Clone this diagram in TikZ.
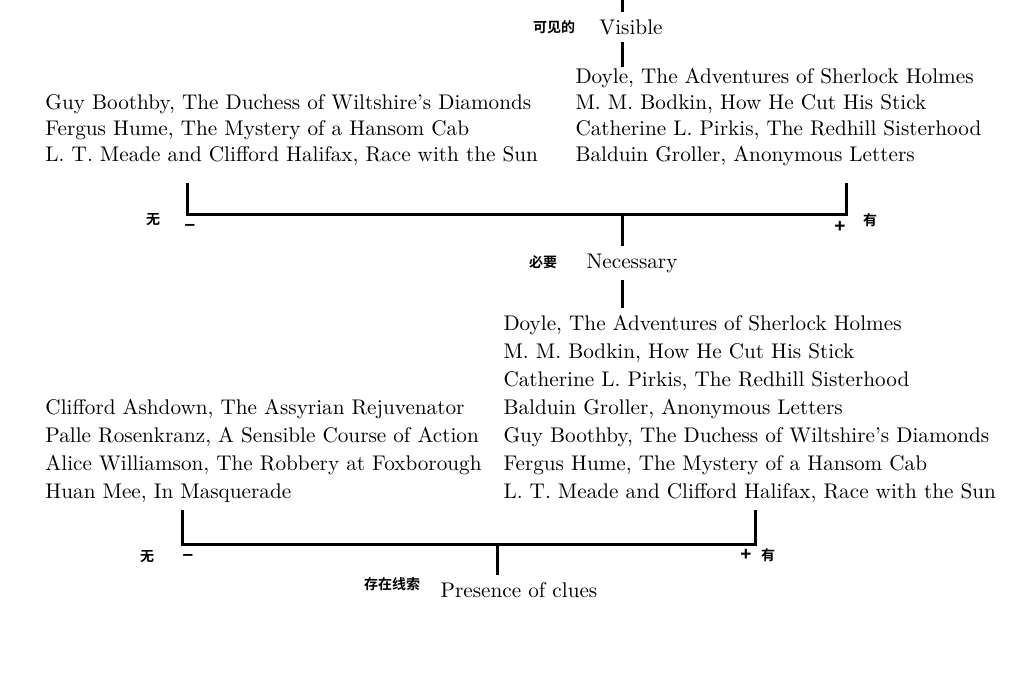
\documentclass[tikz,border=0pt]{standalone}
\usepackage{fontspec}
\usepackage{tikz}
\newfontfamily\cjk{Noto Sans CJK SC}[BoldFont={Noto Sans CJK SC Bold}]
\newfontfamily\signfont{Liberation Sans}
\newcommand\titlefont{\fontsize{10.6}{12}\selectfont}
\newcommand\axisfont{\fontsize{10.6}{12}\selectfont}
\newcommand\zhfont{\cjk\bfseries\fontsize{7}{8}\selectfont}

\tikzset{
	title/.style={anchor=west, inner sep=0pt, font=\titlefont},
	axis/.style={inner sep=3pt, font=\axisfont},
	zh/.style={inner sep=0pt, font=\zhfont},
	sign/.style={inner sep=0pt, font=\signfont\bfseries\fontsize{9.5}{9.5}\selectfont},
}

\begin{document}
\begin{tikzpicture}[x=0.5pt, y=-0.5pt, line width=1.5pt]
		\useasboundingbox (0,0) rectangle (1024,696);

		% Visible
		\coordinate (top) at (622,0);
		\node at (631, 27) [axis] (visible) {Visible};
		\node at (554, 27) [zh] (visiblezh) {可见的};
		\foreach \t [count=\i] in {{Doyle, The Adventures of Sherlock Holmes},
				{M. M. Bodkin, How He Cut His Stick},
				{Catherine L. Pirkis, The Redhill Sisterhood},
				{Balduin Groller, Anonymous Letters}}
			\node at (574, 52+26*\i) [title] (vis\i) {\t};
		\foreach \t [count=\i] in {{Guy Boothby, The Duchess of Wiltshire’s Diamonds},
				{Fergus Hume, The Mystery of a Hansom Cab},
				{L. T. Meade and Clifford Halifax, Race with the Sun}}
			\node at (44, 78+26*\i) [title] (invis\i) {\t};
		\draw (top) -- (top |- visible.north);
		\draw (top |- visible.south) -- (top |- vis1.north);

		% First axis
		\coordinate (ax1l) at (187,183);
		\coordinate (ax1r) at (846,183);
		\coordinate (ax1m) at (622,214);
		\draw (ax1l) |- (ax1m) -| (ax1r);
		\node at (190, 227) [sign] (ax1minus) {–};
		\node at (840, 227) [sign] (ax1plus) {+};
		\node at (153, 220) [zh] (ax1no) {无};
		\node at (870, 220) [zh] (ax1yes) {有};

		% Necessary
		\node at (632, 263) [axis] (necessary) {Necessary};
		\node at (543, 262) [zh] (necessaryzh) {必要};
		\draw (ax1m) -- (ax1m |- necessary.north);
		\foreach \t [count=\i] in {{Doyle, The Adventures of Sherlock Holmes},
				{M. M. Bodkin, How He Cut His Stick},
				{Catherine L. Pirkis, The Redhill Sisterhood},
				{Balduin Groller, Anonymous Letters},
				{Guy Boothby, The Duchess of Wiltshire’s Diamonds},
				{Fergus Hume, The Mystery of a Hansom Cab},
				{L. T. Meade and Clifford Halifax, Race with the Sun}}
			\node at (502, 297+28*\i) [title] (nec\i) {\t};
		\foreach \t [count=\i] in {{Clifford Ashdown, The Assyrian Rejuvenator},
				{Palle Rosenkranz, A Sensible Course of Action},
				{Alice Williamson, The Robbery at Foxborough},
				{Huan Mee, In Masquerade}}
			\node at (44, 381+28*\i) [title] (unnec\i) {\t};
		\draw [shorten >=3pt] (ax1m |- necessary.south) -- (ax1m |- nec1.north);

		% Second axis
		\coordinate (ax2l) at (182,510);
		\coordinate (ax2r) at (755,510);
		\coordinate (ax2m) at (497,544);
		\draw (ax2l) |- (ax2m) -| (ax2r);
		\node at (188, 557) [sign] (ax2minus) {–};
		\node at (746, 555) [sign] (ax2plus) {+};
		\node at (147, 557) [zh] (ax2no) {无};
		\node at (768, 555) [zh] (ax2yes) {有};

		% Presence of clues
		\node at (519, 590) [axis] (clues) {Presence of clues};
		\node at (392, 584) [zh] (clueszh) {存在线索};
		\draw (ax2m) -- (ax2m |- clues.north);
	\end{tikzpicture}
\end{document}
